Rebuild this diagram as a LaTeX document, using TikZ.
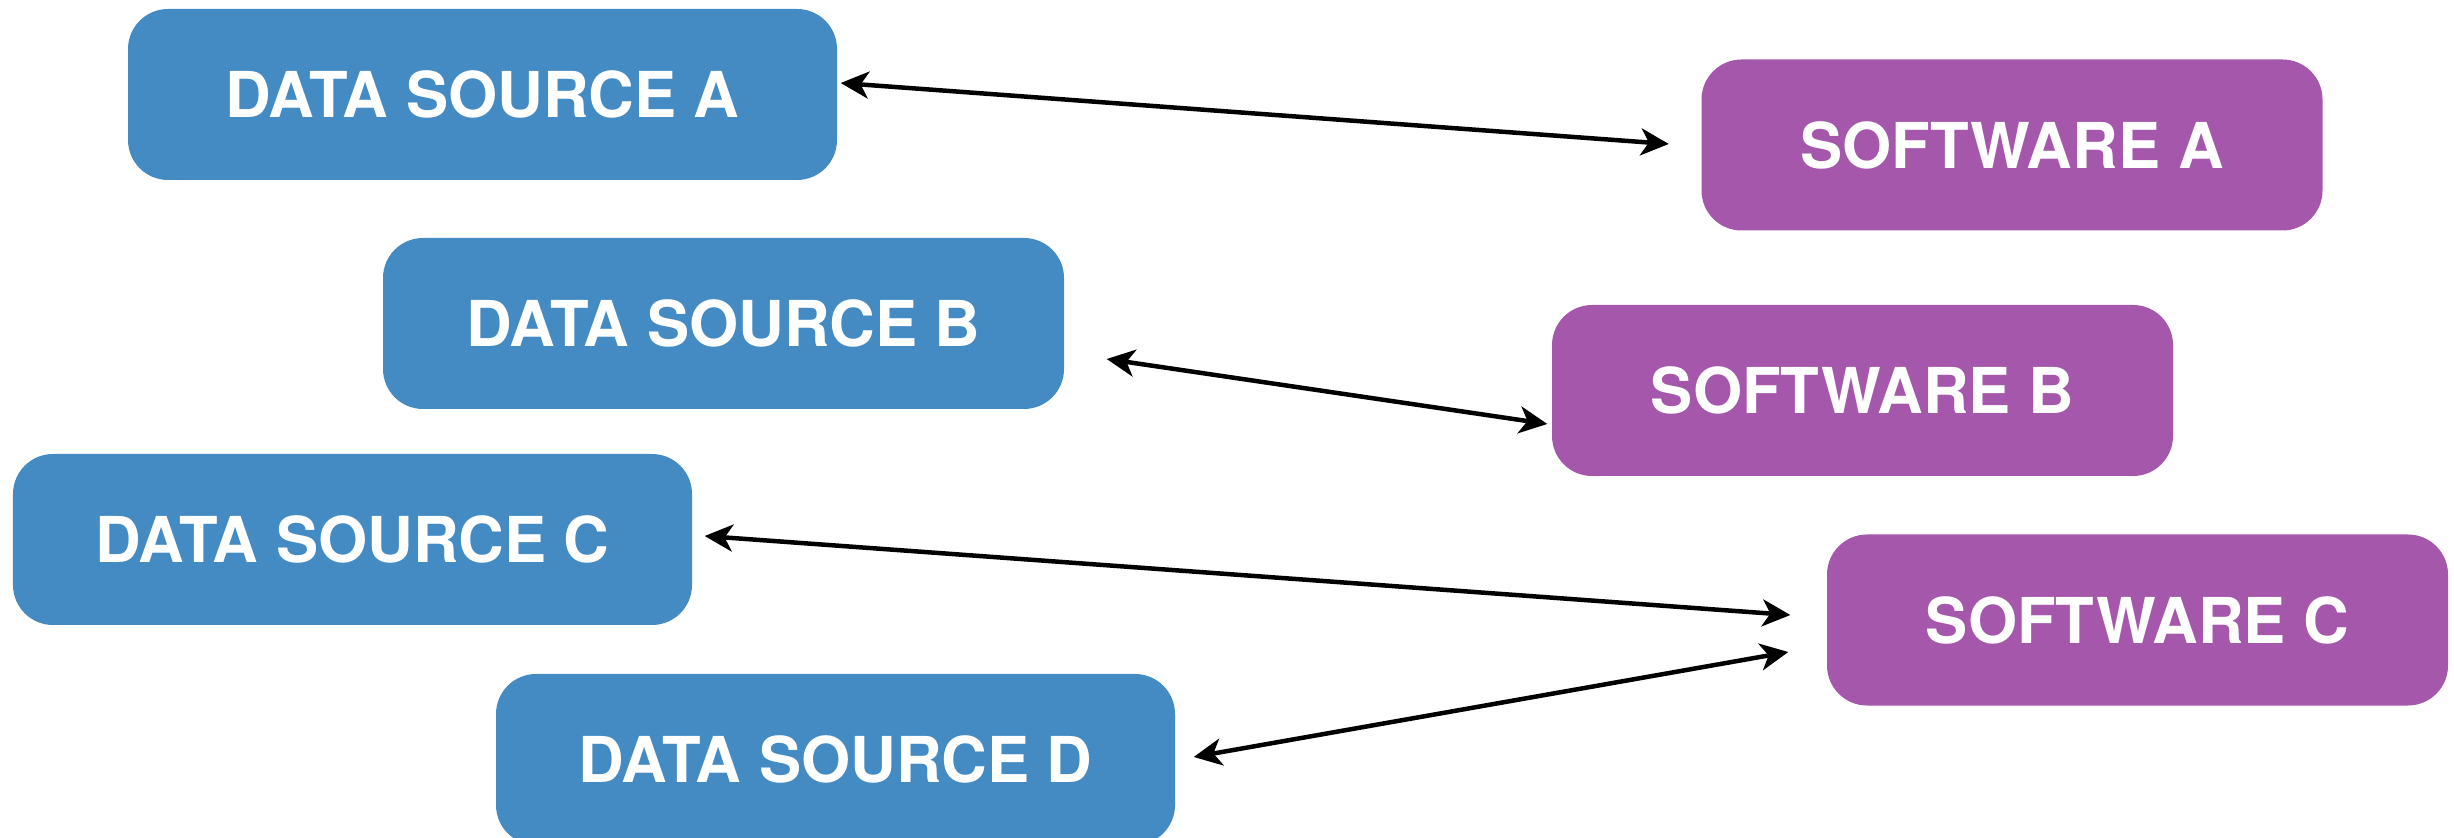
\documentclass[tikz,border=0pt]{standalone}
\usepackage{fontspec}
\setmainfont{TeX Gyre Heros}
\definecolor{dblue}{RGB}{68,139,196}
\definecolor{spurple}{RGB}{164,87,171}
\usetikzlibrary{arrows.meta}

\begin{document}
\begin{tikzpicture}[
    box/.style={rounded corners=0.4cm, minimum height=1.71cm, inner sep=0pt,
                text=white, font=\fontsize{18}{20}\selectfont\bfseries, align=center},
    src/.style={box, fill=dblue, minimum width=6.8cm},
    soft/.style={box, fill=spurple, minimum width=6.21cm},
    arr/.style={<->, >={Stealth[length=0.28cm, width=0.27cm, inset=0.08cm]}, line width=0.045cm},
  ]
    \useasboundingbox (0,0) rectangle (24.54,-8.38);

    \node[src, minimum width=7.09cm] (dsa) at (4.825,-0.945) {DATA SOURCE A};
    \node[src, minimum width=6.81cm] (dsb) at (7.235,-3.235) {DATA SOURCE B};
    \node[src, minimum width=6.79cm] (dsc) at (3.525,-5.395) {DATA SOURCE C};
    \node[src, minimum width=6.79cm] (dsd) at (8.355,-7.595) {DATA SOURCE D};

    \node[soft] (swa) at (20.12,-1.45)   {SOFTWARE A};
    \node[soft] (swb) at (18.625,-3.905) {SOFTWARE B};
    \node[soft] (swc) at (21.375,-6.20)  {SOFTWARE C};

    \draw[arr] ([xshift=0.03cm,yshift=0.115cm]dsa.east) -- ([xshift=-0.32cm,yshift=0.01cm]swa.west);
    \draw[arr] ([xshift=0.42cm,yshift=-0.355cm]dsb.east) -- ([xshift=-0.04cm,yshift=-0.335cm]swb.west);
    \draw[arr] ([xshift=0.12cm,yshift=0.035cm]dsc.east) -- ([xshift=-0.36cm,yshift=0.05cm]swc.west);
    \draw[arr] ([xshift=0.18cm,yshift=0.025cm]dsd.east) -- ([xshift=-0.38cm,yshift=-0.32cm]swc.west);
  \end{tikzpicture}
\end{document}
